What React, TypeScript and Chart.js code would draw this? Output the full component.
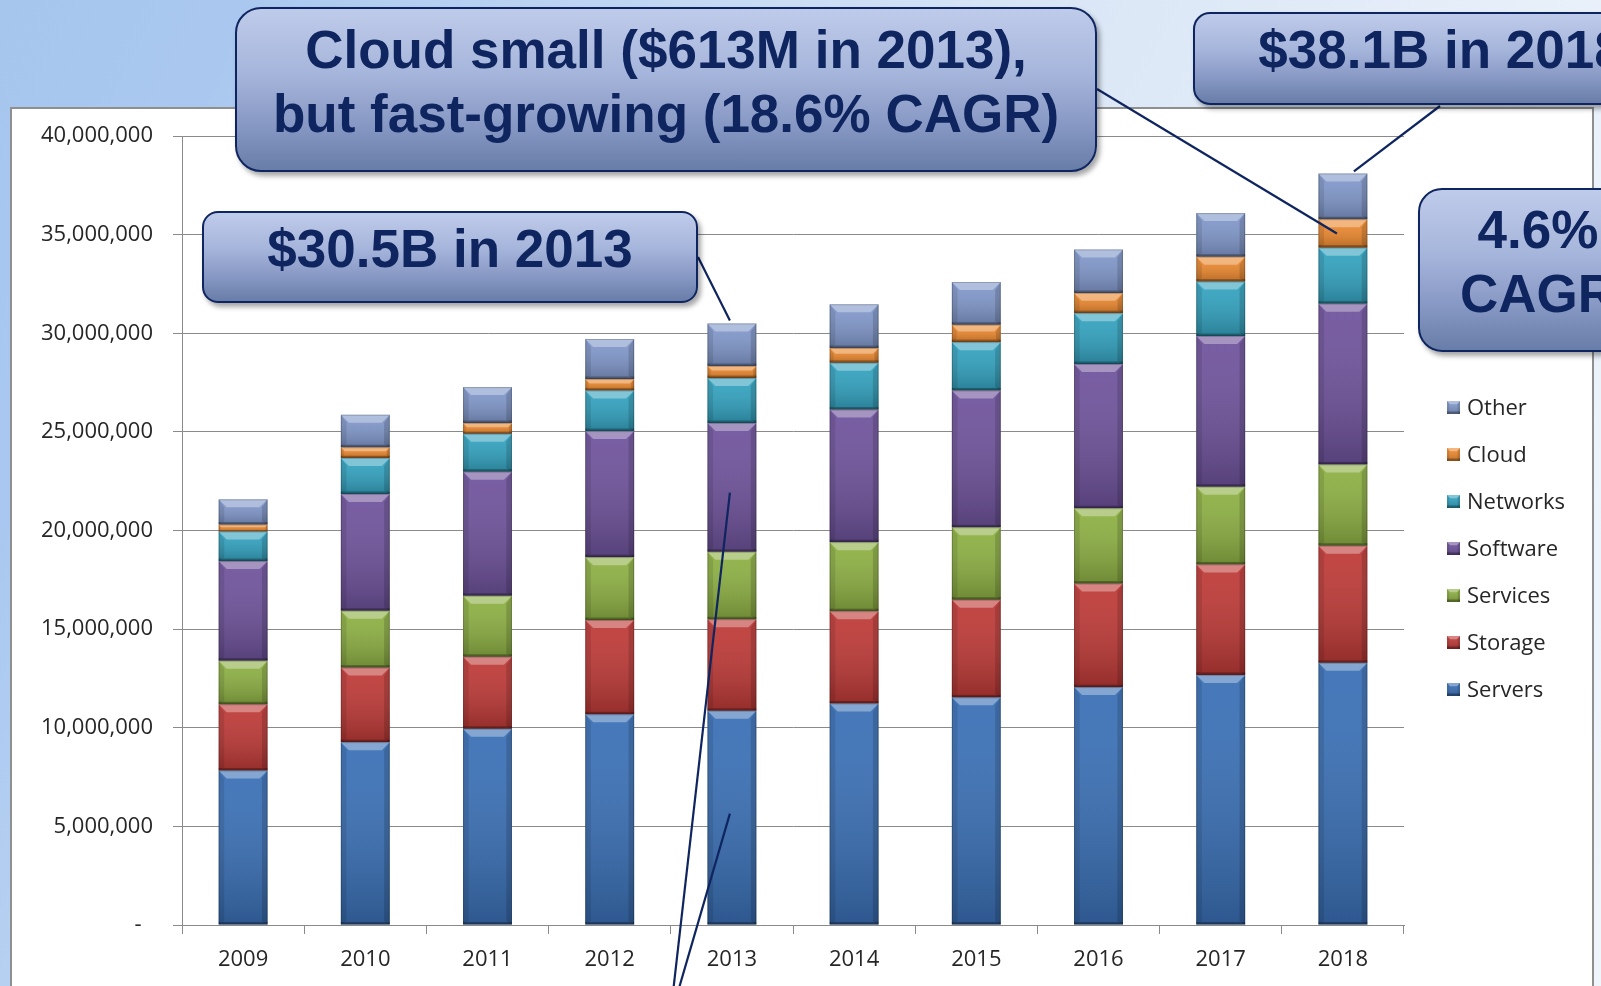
import React, { useEffect, useRef } from 'react';
import { Chart, registerables } from 'chart.js';

Chart.register(...registerables);

// ---- Data (values in dollars) ----
const years = ['2009', '2010', '2011', '2012', '2013', '2014', '2015', '2016', '2017', '2018'];
const servers = [7830000, 9270000, 9950000, 10680000, 10860000, 11230000, 11540000, 12060000, 12680000, 13290000];
const storage = [3360000, 3780000, 3650000, 4780000, 4640000, 4680000, 4950000, 5250000, 5600000, 5940000];
const services = [2210000, 2880000, 3090000, 3190000, 3420000, 3500000, 3670000, 3820000, 3940000, 4120000];
const software = [5050000, 5920000, 6290000, 6390000, 6530000, 6720000, 6940000, 7310000, 7640000, 8150000];
const networks = [1500000, 1830000, 1920000, 2060000, 2280000, 2370000, 2450000, 2580000, 2760000, 2840000];
const cloud = [350000, 540000, 550000, 580000, 610000, 750000, 880000, 1020000, 1260000, 1440000];
const other = [1280000, 1650000, 1820000, 2030000, 2160000, 2220000, 2170000, 2210000, 2210000, 2320000];

const seriesNames = ['Servers', 'Storage', 'Services', 'Software', 'Networks', 'Cloud', 'Other'];
const seriesColors = ['#3a70b6', '#be3a37', '#8db043', '#6f539c', '#33a3c0', '#ee8a30', '#8198cb'];
const seriesValues = [servers, storage, services, software, networks, cloud, other];

const yMax = 40000000;
const yStep = 5000000;

const callout1 = ['Cloud small ($613M in 2013),', 'but fast-growing (18.6% CAGR)'];
const callout2 = ['$30.5B in 2013'];
const callout3 = ['$38.1B in 2018'];
const callout4 = ['4.6%', 'CAGR'];

const FONT = '"Open Sans", "Liberation Sans", sans-serif';
const NAVY = '#0f2560';

function bevelRect(ctx: CanvasRenderingContext2D, l: number, t: number, r: number, b: number) {
  const h = b - t;
  const w = r - l;
  if (h <= 0 || w <= 0) return;
  const bv = Math.min(8, h / 2.6, w / 4);
  // vertical shading
  const g = ctx.createLinearGradient(0, t, 0, b);
  g.addColorStop(0, 'rgba(255,255,255,0.06)');
  g.addColorStop(1, 'rgba(0,0,0,0.22)');
  ctx.fillStyle = g;
  ctx.fillRect(l, t, w, h);
  // top bevel
  ctx.beginPath();
  ctx.moveTo(l, t);
  ctx.lineTo(r, t);
  ctx.lineTo(r - bv, t + bv);
  ctx.lineTo(l + bv, t + bv);
  ctx.closePath();
  ctx.fillStyle = 'rgba(255,255,255,0.34)';
  ctx.fill();
  // left bevel
  ctx.beginPath();
  ctx.moveTo(l, t);
  ctx.lineTo(l + bv * 0.7, t + bv);
  ctx.lineTo(l + bv * 0.7, b - bv * 0.4);
  ctx.lineTo(l, b);
  ctx.closePath();
  ctx.fillStyle = 'rgba(0,0,0,0.1)';
  ctx.fill();
  // right bevel
  ctx.beginPath();
  ctx.moveTo(r, t);
  ctx.lineTo(r - bv * 0.7, t + bv);
  ctx.lineTo(r - bv * 0.7, b - bv * 0.4);
  ctx.lineTo(r, b);
  ctx.closePath();
  ctx.fillStyle = 'rgba(0,0,0,0.15)';
  ctx.fill();
  // bottom bevel
  const bb = Math.min(2.5, h / 5);
  ctx.fillStyle = 'rgba(0,0,0,0.28)';
  ctx.fillRect(l, b - bb, w, bb);
}

const bevelPlugin = {
  id: 'bevel',
  afterDatasetsDraw(chart: any) {
    const ctx: CanvasRenderingContext2D = chart.ctx;
    ctx.save();
    chart.data.datasets.forEach((_ds: any, i: number) => {
      const meta = chart.getDatasetMeta(i);
      meta.data.forEach((el: any) => {
        const p = el.getProps(['x', 'y', 'base', 'width'], true);
        const l = p.x - p.width / 2;
        const r = p.x + p.width / 2;
        const t = Math.min(p.y, p.base);
        const b = Math.max(p.y, p.base);
        bevelRect(ctx, l, t, r, b);
        ctx.strokeStyle = 'rgba(0,0,0,0.2)';
        ctx.lineWidth = 1;
        ctx.strokeRect(l + 0.5, t + 0.5, r - l - 1, b - t - 1);
      });
    });
    ctx.restore();
  },
};

const leaderPlugin = {
  id: 'leaders',
  afterDatasetsDraw(chart: any) {
    const ctx: CanvasRenderingContext2D = chart.ctx;
    const xs = chart.scales.x;
    const ys = chart.scales.y;
    const idx13 = years.indexOf('2013');
    const idx18 = years.indexOf('2018');
    const total = (k: number) => seriesValues.reduce((s, arr) => s + arr[k], 0);
    const below = (k: number, series: number) => {
      let s = 0;
      for (let j = 0; j < series; j++) s += seriesValues[j][k];
      return s;
    };
    const x13 = xs.getPixelForValue(idx13);
    const x18 = xs.getPixelForValue(idx18);
    const lines: [number, number, number, number][] = [
      [698, 257, x13 - 2, ys.getPixelForValue(total(idx13)) - 3],
      [1097, 89, x18 - 6, ys.getPixelForValue(below(idx18, 5) + cloud[idx18] / 2)],
      [1440, 106, x18 + 11, ys.getPixelForValue(total(idx18)) - 2],
      [670, 1019, x13 - 2, ys.getPixelForValue(below(idx13, 3) + software[idx13] * 0.46)],
      [670, 1019, x13 - 2, ys.getPixelForValue(servers[idx13] * 0.52)],
    ];
    ctx.save();
    ctx.strokeStyle = NAVY;
    ctx.lineWidth = 2.2;
    lines.forEach(([a, b, c, d]) => {
      ctx.beginPath();
      ctx.moveTo(a, b);
      ctx.lineTo(c, d);
      ctx.stroke();
    });
    ctx.restore();
  },
};

const legendPlugin = {
  id: 'customLegend',
  afterDraw(chart: any) {
    const ctx: CanvasRenderingContext2D = chart.ctx;
    const ds = chart.data.datasets;
    ctx.save();
    ctx.font = `22px ${FONT}`;
    ctx.textAlign = 'left';
    ctx.textBaseline = 'alphabetic';
    const x0 = 1447;
    const y0 = 407;
    const gap = 47;
    for (let k = 0; k < ds.length; k++) {
      const d = ds[ds.length - 1 - k];
      const cy = y0 + k * gap;
      ctx.fillStyle = d.backgroundColor;
      ctx.fillRect(x0, cy - 6, 13, 13);
      bevelRect(ctx, x0, cy - 6, x0 + 13, cy + 7);
      ctx.fillStyle = '#262626';
      ctx.fillText(d.label, x0 + 20, cy + 8);
    }
    ctx.restore();
  },
};

function Callout(props: {
  left: number; top: number; width: number; height: number; radius: number; textTop: number; lines: string[];
}) {
  const { left, top, width, height, radius, textTop, lines } = props;
  return (
    <div
      style={{
        position: 'absolute',
        left,
        top,
        width,
        height,
        boxSizing: 'border-box',
        border: `2px solid ${NAVY}`,
        borderRadius: radius,
        background: 'linear-gradient(180deg, #bfcbea 0%, #a6b5db 40%, #8798c4 72%, #687da8 100%)',
        boxShadow: '3px 4px 5px rgba(0,0,0,0.35)',
      }}
    >
      <div
        style={{
          position: 'absolute',
          left: 0,
          right: 0,
          top: textTop,
          textAlign: 'center',
          font: 'bold 53px "Liberation Sans", Arial, sans-serif',
          lineHeight: '64px',
          color: NAVY,
          whiteSpace: 'nowrap',
        }}
      >
        {lines.map((l, i) => (
          <div key={i}>{l}</div>
        ))}
      </div>
    </div>
  );
}

export default function App() {
  const ref = useRef<HTMLCanvasElement>(null);

  useEffect(() => {
    document.body.style.margin = '0';
    const canvas = ref.current;
    if (!canvas) return;
    const chart = new Chart(canvas, {
      type: 'bar',
      data: {
        labels: years,
        datasets: seriesNames.map((name, i) => ({
          label: name,
          data: seriesValues[i],
          backgroundColor: seriesColors[i],
          borderWidth: 0,
          categoryPercentage: 1,
          barPercentage: 0.4,
        })),
      },
      options: {
        responsive: false,
        maintainAspectRatio: false,
        animation: false,
        devicePixelRatio: 1,
        layout: { padding: { top: 136, left: 0, right: 197, bottom: 0 } },
        plugins: {
          legend: { display: false },
          tooltip: { enabled: false },
        },
        scales: {
          x: {
            stacked: true,
            grid: {
              display: true,
              drawOnChartArea: false,
              drawTicks: true,
              tickLength: 9,
              color: '#8a8a8a',
              offset: true,
            },
            border: { display: true, color: '#8a8a8a', width: 1 },
            ticks: { font: { family: FONT, size: 22 }, color: '#262626', padding: 13 },
            afterFit: (s: any) => {
              s.height = 61;
            },
          },
          y: {
            stacked: true,
            min: 0,
            max: yMax,
            grid: { color: '#8a8a8a', tickLength: 9, drawTicks: true },
            border: { display: true, color: '#8a8a8a', width: 1 },
            ticks: {
              stepSize: yStep,
              font: { family: FONT, size: 22 },
              color: '#262626',
              padding: 20,
              callback: (v: any) => (Number(v) === 0 ? '-  ' : Number(v).toLocaleString('en-US')),
            },
            afterFit: (s: any) => {
              s.width = 182;
            },
          },
        },
      },
      plugins: [bevelPlugin, leaderPlugin, legendPlugin],
    });
    return () => chart.destroy();
  }, []);

  return (
    <div
      style={{
        position: 'fixed',
        left: 0,
        top: 0,
        width: 1601,
        height: 986,
        overflow: 'hidden',
        background:
          'linear-gradient(115deg, #a6c6ee 0%, #aac8ef 12%, #c2d8f3 33%, #dbe7f6 53%, #eaf1fa 80%, #f0f5fb 100%)',
      }}
    >
      <div
        style={{
          position: 'absolute',
          left: 10,
          top: 107,
          width: 1584,
          height: 900,
          boxSizing: 'border-box',
          background: '#ffffff',
          border: '2px solid #8f8f8f',
        }}
      />
      <canvas
        ref={ref}
        width={1601}
        height={986}
        style={{ position: 'absolute', left: 0, top: 0, width: 1601, height: 986 }}
      />
      <Callout left={235} top={7} width={862} height={165} radius={26} textTop={8.6} lines={callout1} />
      <Callout left={202} top={211} width={496} height={92} radius={16} textTop={3.6} lines={callout2} />
      <Callout left={1193} top={12} width={496} height={93} radius={17} textTop={3.6} lines={callout3} />
      <Callout left={1418} top={188} width={240} height={164} radius={24} textTop={7.6} lines={callout4} />
    </div>
  );
}
